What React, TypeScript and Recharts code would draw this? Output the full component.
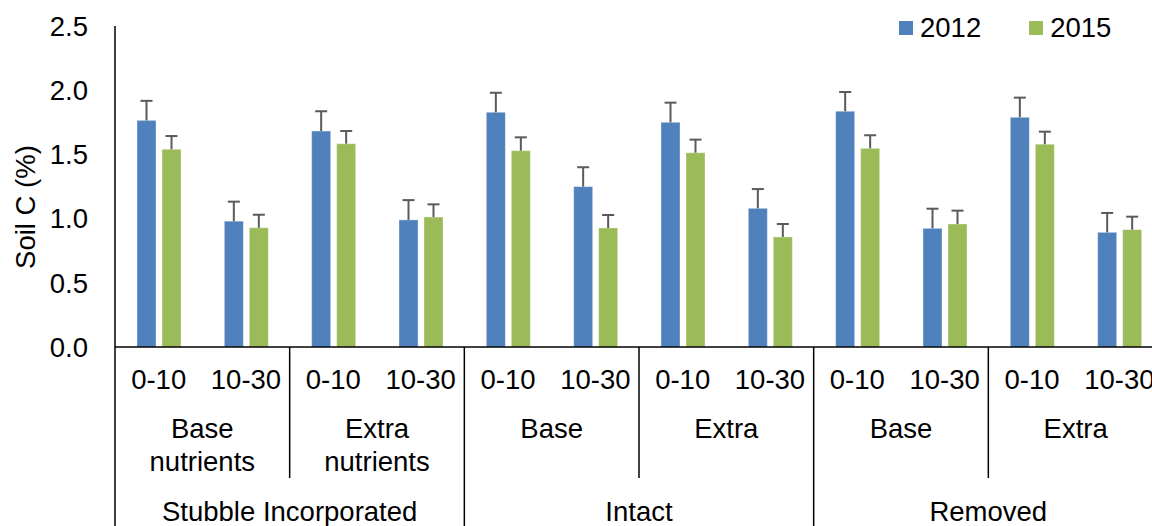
import React from 'react';
import { BarChart, Bar, XAxis, YAxis, Legend } from 'recharts';

const depths = ['0-10', '10-30', '0-10', '10-30', '0-10', '10-30', '0-10', '10-30', '0-10', '10-30', '0-10', '10-30'];
const nutrientLabels: string[][] = [['Base', 'nutrients'], ['Extra', 'nutrients'], ['Base'], ['Extra'], ['Base'], ['Extra']];
const stubbleLabels = ['Stubble Incorporated', 'Intact', 'Removed'];
const seriesNames = ['2012', '2015'];
const soilC2012 = [1.765, 0.98, 1.682, 0.99, 1.828, 1.249, 1.75, 1.08, 1.836, 0.924, 1.789, 0.893];
const se2012 = [0.152, 0.152, 0.154, 0.154, 0.152, 0.151, 0.153, 0.15, 0.15, 0.153, 0.153, 0.151];
const soilC2015 = [1.54, 0.929, 1.583, 1.012, 1.529, 0.927, 1.513, 0.857, 1.547, 0.958, 1.579, 0.914];
const se2015 = [0.103, 0.101, 0.099, 0.099, 0.104, 0.101, 0.102, 0.101, 0.102, 0.104, 0.098, 0.101];
const yTicks = [0, 0.5, 1, 1.5, 2, 2.5];

const data = depths.map((d, i) => ({
  idx: i,
  depth: d,
  v2012: soilC2012[i],
  e2012: se2012[i],
  v2015: soilC2015[i],
  e2015: se2015[i],
}));

const FONT = '"Liberation Sans", Arial, sans-serif';
const FS = 27.5;
const CHART_W = 1175;
const CHART_H = 526;
const MARGIN = { top: 26, right: 12, left: 0, bottom: 0 };
const Y_AXIS_W = 115;
const X_AXIS_H = 179;
const PLOT_W = CHART_W - MARGIN.left - MARGIN.right - Y_AXIS_W;
const BAND = PLOT_W / depths.length;
const AXIS_Y = CHART_H - X_AXIS_H;
const BLUE = '#4F81BD';
const GREEN = '#9BBB59';
const ERR = '#5a5a5a';
const LINE = '#000';

const makeShape = (fill: string, valKey: string, errKey: string) => (props: any) => {
  const { x, y, width, height, payload } = props;
  const v = payload[valKey];
  const e = payload[errKey];
  const ppu = v ? height / v : 0;
  const cx = x + width / 2;
  const top = y - e * ppu;
  return (
    <g>
      <rect x={x} y={y} width={width} height={height} fill={fill} stroke="#ffffff" strokeOpacity={0.35} strokeWidth={1} />
      <line x1={cx} x2={cx} y1={y} y2={top} stroke={ERR} strokeWidth={2} />
      <line x1={cx - 6} x2={cx + 6} y1={top} y2={top} stroke={ERR} strokeWidth={2} />
    </g>
  );
};

const textStyle = { fontFamily: FONT, fontSize: FS, fill: '#000' } as const;

const XTick = (props: any) => {
  const { x, index } = props;
  const i = index as number;
  const els: React.ReactNode[] = [];
  els.push(
    <text key="d" x={x} y={AXIS_Y + 42} textAnchor="middle" style={textStyle}>
      {depths[i]}
    </text>
  );
  if (i === 0) {
    els.push(<line key="l0" x1={x - BAND / 2} x2={x - BAND / 2} y1={AXIS_Y} y2={CHART_H} stroke={LINE} strokeWidth={1.5} />);
  }
  if (i % 2 === 1) {
    const sx = x + BAND / 2;
    const major = i % 4 === 3;
    els.push(<line key="s" x1={sx} x2={sx} y1={AXIS_Y} y2={major ? CHART_H : AXIS_Y + 131} stroke={LINE} strokeWidth={1.5} />);
    const lines = nutrientLabels[(i - 1) / 2];
    lines.forEach((t, k) => {
      els.push(
        <text key={'n' + k} x={x - BAND / 2} y={AXIS_Y + 91 + k * 32.7} textAnchor="middle" style={textStyle}>
          {t}
        </text>
      );
    });
  }
  if (i % 4 === 1) {
    els.push(
      <text key="m" x={x + BAND / 2} y={AXIS_Y + 174.4} textAnchor="middle" style={textStyle}>
        {stubbleLabels[(i - 1) / 4]}
      </text>
    );
  }
  return <g>{els}</g>;
};

const YLabel = () => (
  <text transform="translate(35,207) rotate(-90)" textAnchor="middle" style={textStyle}>
    Soil C (%)
  </text>
);

const renderLegend = (props: any) => {
  const payload = props.payload || [];
  return (
    <div style={{ display: 'flex', alignItems: 'center', fontFamily: FONT, fontSize: FS, lineHeight: '30px', color: '#000', whiteSpace: 'nowrap' }}>
      {payload.map((p: any, k: number) => (
        <div key={k} style={{ display: 'flex', alignItems: 'center', marginRight: k === 0 ? 48 : 0 }}>
          <span style={{ display: 'inline-block', width: 14, height: 14, background: p.color, marginRight: 7 }} />
          <span>{p.value}</span>
        </div>
      ))}
    </div>
  );
};

export default function App() {
  return (
    <div style={{ position: 'absolute', left: 0, top: 0, width: 1152, height: 526, overflow: 'hidden', background: '#fff' }}>
      <BarChart width={CHART_W} height={CHART_H} data={data} margin={MARGIN} barSize={19} barGap={6}>
        <XAxis
          dataKey="idx"
          height={X_AXIS_H}
          interval={0}
          tickLine={false}
          axisLine={{ stroke: LINE, strokeWidth: 1.5 }}
          tick={<XTick />}
        />
        <YAxis
          width={Y_AXIS_W}
          domain={[0, 2.5]}
          ticks={yTicks}
          tickFormatter={(v: number) => v.toFixed(1)}
          tickLine={false}
          tickSize={0}
          tickMargin={27}
          axisLine={{ stroke: LINE, strokeWidth: 1.5 }}
          tick={{ fontFamily: FONT, fontSize: FS, fill: '#000' }}
          label={<YLabel />}
          allowDataOverflow
        />
        <Legend
          verticalAlign="middle"
          align="center"
          layout="horizontal"
          wrapperStyle={{ left: 899, top: 13, width: 'auto', height: 30 }}
          content={renderLegend}
        />
        <Bar dataKey="v2012" name={seriesNames[0]} fill={BLUE} isAnimationActive={false} shape={makeShape(BLUE, 'v2012', 'e2012')} />
        <Bar dataKey="v2015" name={seriesNames[1]} fill={GREEN} isAnimationActive={false} shape={makeShape(GREEN, 'v2015', 'e2015')} />
      </BarChart>
    </div>
  );
}
